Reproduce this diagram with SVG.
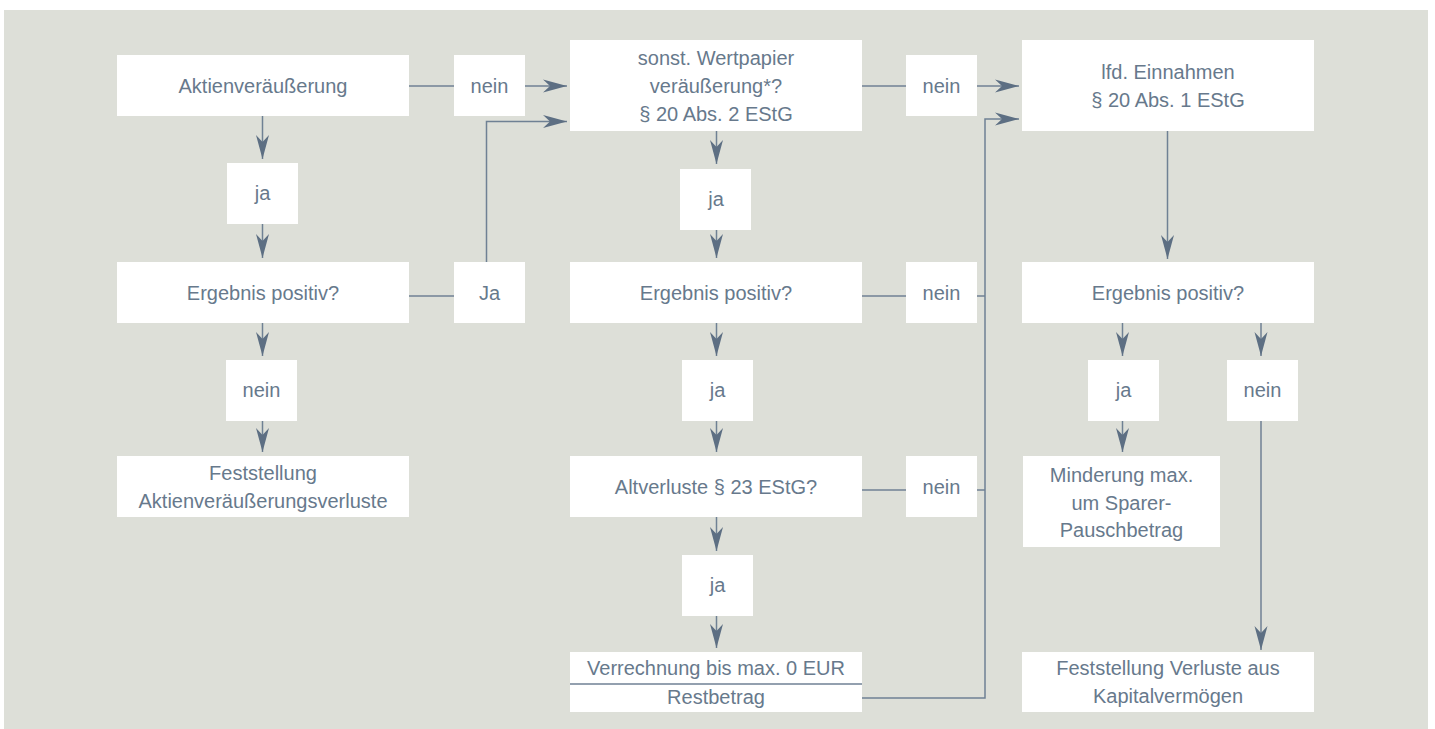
<svg xmlns="http://www.w3.org/2000/svg" width="1435" height="729" viewBox="0 0 1435 729">
<style>
.bg{fill:#dddfd8}
.box{fill:#ffffff}
.t{font-family:"Liberation Sans",Arial,sans-serif;font-size:20px;fill:#67798c;text-anchor:middle}
.ln{stroke:#6f8194;stroke-width:1.5;fill:none}
.ar{stroke:#6f8194;stroke-width:1.5;fill:none;marker-end:url(#ah)}
</style>
<defs>
<marker id="ah" markerUnits="userSpaceOnUse" markerWidth="26" markerHeight="14" viewBox="-25 -7 26 14" refX="0" refY="0" orient="auto">
<path d="M0,0 L-24,-6.5 L-17,0 L-24,6.5 Z" fill="#5d6f83"/>
</marker>
</defs>
<rect class="bg" x="4" y="10" width="1424" height="719"/>

<g id="connectors">
<line class="ar" x1="262.5" y1="116" x2="262.5" y2="159"/>
<line class="ar" x1="262.5" y1="224" x2="262.5" y2="258"/>
<line class="ar" x1="262.5" y1="323" x2="262.5" y2="356"/>
<line class="ar" x1="262.5" y1="421" x2="262.5" y2="452"/>
<line class="ln" x1="409" y1="86" x2="454" y2="86"/>
<line class="ar" x1="525" y1="86" x2="567" y2="86"/>
<line class="ln" x1="409" y1="296" x2="454" y2="296"/>
<polyline class="ar" points="486.5,262 486.5,121.5 567,121.5"/>
<line class="ar" x1="716.5" y1="131" x2="716.5" y2="164"/>
<line class="ar" x1="716.5" y1="230" x2="716.5" y2="258"/>
<line class="ar" x1="716.5" y1="323" x2="716.5" y2="356"/>
<line class="ar" x1="716.5" y1="421" x2="716.5" y2="452"/>
<line class="ar" x1="716.5" y1="517" x2="716.5" y2="551"/>
<line class="ar" x1="716.5" y1="616" x2="716.5" y2="648"/>
<line class="ln" x1="862" y1="86" x2="906" y2="86"/>
<line class="ar" x1="977" y1="86" x2="1019" y2="86"/>
<line class="ln" x1="862" y1="296" x2="906" y2="296"/>
<line class="ln" x1="977" y1="296" x2="985" y2="296"/>
<line class="ln" x1="862" y1="490" x2="906" y2="490"/>
<line class="ln" x1="977" y1="490" x2="985" y2="490"/>
<polyline class="ar" points="862,698 985,698 985,119 1019,119"/>
<line class="ar" x1="1167.5" y1="131" x2="1167.5" y2="259"/>
<line class="ar" x1="1122.5" y1="323" x2="1122.5" y2="356"/>
<line class="ar" x1="1261" y1="323" x2="1261" y2="356"/>
<line class="ar" x1="1122.5" y1="421" x2="1122.5" y2="452"/>
<line class="ar" x1="1261" y1="421" x2="1261" y2="650"/>
</g>

<g id="n-aktien"><rect class="box" x="117" y="55" width="292" height="61"/><text class="t" x="263" y="93">Aktienveräußerung</text></g>
<g id="n-nein1"><rect class="box" x="454" y="55" width="71" height="61"/><text class="t" x="489.5" y="93">nein</text></g>
<g id="n-ja1"><rect class="box" x="227" y="163" width="71" height="61"/><text class="t" x="262.5" y="200">ja</text></g>
<g id="n-erg1"><rect class="box" x="117" y="262" width="292" height="61"/><text class="t" x="263" y="300">Ergebnis positiv?</text></g>
<g id="n-ja-left"><rect class="box" x="454" y="262" width="71" height="61"/><text class="t" x="489.5" y="300">Ja</text></g>
<g id="n-nein2"><rect class="box" x="226" y="360" width="71" height="61"/><text class="t" x="261.5" y="397">nein</text></g>
<g id="n-fest1"><rect class="box" x="117" y="456" width="292" height="61"/><text class="t" x="263" y="480">Feststellung</text><text class="t" x="263" y="507.5">Aktienveräußerungsverluste</text></g>

<g id="n-sonst"><rect class="box" x="570" y="40" width="292" height="91"/><text class="t" x="716" y="65">sonst. Wertpapier</text><text class="t" x="716" y="93">veräußerung*?</text><text class="t" x="716" y="121">§ 20 Abs. 2 EStG</text></g>
<g id="n-nein3"><rect class="box" x="906" y="55" width="71" height="61"/><text class="t" x="941.5" y="93">nein</text></g>
<g id="n-ja2"><rect class="box" x="680" y="169" width="71" height="61"/><text class="t" x="716" y="206">ja</text></g>
<g id="n-erg2"><rect class="box" x="570" y="262" width="292" height="61"/><text class="t" x="716" y="300">Ergebnis positiv?</text></g>
<g id="n-nein4"><rect class="box" x="906" y="262" width="71" height="61"/><text class="t" x="941.5" y="300">nein</text></g>
<g id="n-ja3"><rect class="box" x="682" y="360" width="71" height="61"/><text class="t" x="717.5" y="397">ja</text></g>
<g id="n-alt"><rect class="box" x="570" y="456" width="292" height="61"/><text class="t" x="716" y="494">Altverluste § 23 EStG?</text></g>
<g id="n-nein5"><rect class="box" x="906" y="456" width="71" height="61"/><text class="t" x="941.5" y="494">nein</text></g>
<g id="n-ja4"><rect class="box" x="682" y="555" width="71" height="61"/><text class="t" x="717.5" y="592">ja</text></g>
<g id="n-verr"><rect class="box" x="570" y="652" width="292" height="60"/><line class="ln" x1="570" y1="684" x2="862" y2="684"/><text class="t" x="716" y="675">Verrechnung bis max. 0 EUR</text><text class="t" x="716" y="704">Restbetrag</text></g>

<g id="n-lfd"><rect class="box" x="1022" y="40" width="292" height="91"/><text class="t" x="1168" y="79">lfd. Einnahmen</text><text class="t" x="1168" y="107">§ 20 Abs. 1 EStG</text></g>
<g id="n-erg3"><rect class="box" x="1022" y="262" width="292" height="61"/><text class="t" x="1168" y="300">Ergebnis positiv?</text></g>
<g id="n-ja5"><rect class="box" x="1088" y="360" width="71" height="61"/><text class="t" x="1123.5" y="397">ja</text></g>
<g id="n-nein6"><rect class="box" x="1227" y="360" width="71" height="61"/><text class="t" x="1262.5" y="397">nein</text></g>
<g id="n-minder"><rect class="box" x="1023" y="456" width="197" height="91"/><text class="t" x="1121.5" y="482">Minderung max.</text><text class="t" x="1121.5" y="509.5">um Sparer-</text><text class="t" x="1121.5" y="537">Pauschbetrag</text></g>
<g id="n-fest2"><rect class="box" x="1022" y="652" width="292" height="60"/><text class="t" x="1168" y="675">Feststellung Verluste aus</text><text class="t" x="1168" y="703">Kapitalvermögen</text></g>
</svg>
